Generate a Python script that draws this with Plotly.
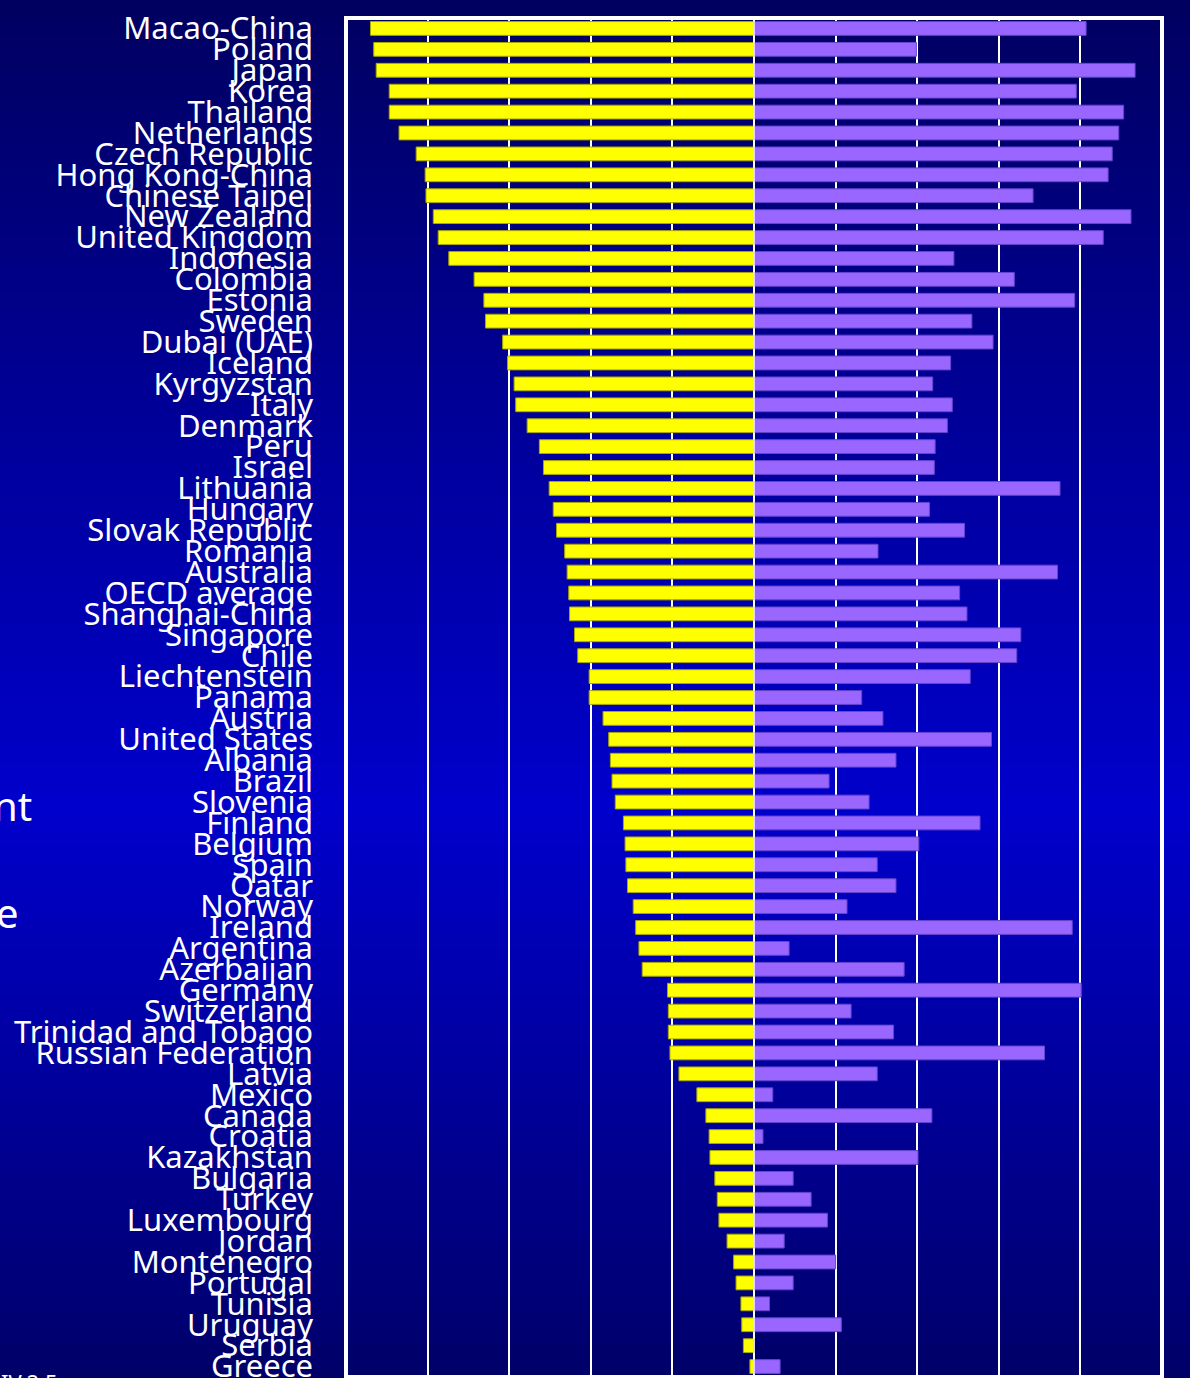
import plotly.graph_objects as go

# Countries, top to bottom
countries = [
    "Macao-China", "Poland", "Japan", "Korea", "Thailand", "Netherlands",
    "Czech Republic", "Hong Kong-China", "Chinese Taipei", "New Zealand",
    "United Kingdom", "Indonesia", "Colombia", "Estonia", "Sweden",
    "Dubai (UAE)", "Iceland", "Kyrgyzstan", "Italy", "Denmark", "Peru",
    "Israel", "Lithuania", "Hungary", "Slovak Republic", "Romania",
    "Australia", "OECD average", "Shanghai-China", "Singapore", "Chile",
    "Liechtenstein", "Panama", "Austria", "United States", "Albania",
    "Brazil", "Slovenia", "Finland", "Belgium", "Spain", "Qatar", "Norway",
    "Ireland", "Argentina", "Azerbaijan", "Germany", "Switzerland",
    "Trinidad and Tobago", "Russian Federation", "Latvia", "Mexico",
    "Canada", "Croatia", "Kazakhstan", "Bulgaria", "Turkey", "Luxembourg",
    "Jordan", "Montenegro", "Portugal", "Tunisia", "Uruguay", "Serbia",
    "Greece",
]

# Left-hand (yellow) series, drawn to the left of zero
yellow_values = [
    47.0, 46.6, 46.3, 44.7, 44.7, 43.5, 41.4, 40.3, 40.2, 39.3,
    38.7, 37.4, 34.3, 33.1, 32.9, 30.8, 30.2, 29.4, 29.2, 27.8,
    26.3, 25.8, 25.1, 24.6, 24.2, 23.2, 22.9, 22.7, 22.6, 22.0,
    21.6, 20.2, 20.2, 18.5, 17.8, 17.6, 17.4, 17.0, 16.0, 15.8,
    15.7, 15.5, 14.8, 14.5, 14.1, 13.7, 10.6, 10.5, 10.5, 10.3,
    9.2, 7.0, 5.9, 5.5, 5.4, 4.8, 4.5, 4.3, 3.3, 2.5,
    2.2, 1.6, 1.5, 1.3, 0.5,
]

# Right-hand (purple) series
purple_values = [
    40.7, 19.9, 46.7, 39.5, 45.3, 44.7, 43.9, 43.4, 34.2, 46.2,
    42.8, 24.5, 31.9, 39.3, 26.7, 29.3, 24.1, 21.9, 24.3, 23.7,
    22.2, 22.1, 37.5, 21.5, 25.8, 15.2, 37.2, 25.2, 26.1, 32.7,
    32.2, 26.5, 13.2, 15.8, 29.1, 17.4, 9.2, 14.1, 27.7, 20.2,
    15.1, 17.4, 11.4, 39.0, 4.3, 18.4, 40.1, 11.9, 17.1, 35.6,
    15.1, 2.3, 21.8, 1.1, 20.1, 4.8, 7.0, 9.0, 3.7, 10.0,
    4.8, 1.9, 10.7, 0.0, 3.2,
]

W, H = 1190, 1378
ML, MR, MT, MB = 346, 28, 18, 1
PLOT_W = W - ML - MR
PLOT_H = H - MT - MB
LABEL_FONT = "Comic Sans MS, Noto Sans, sans-serif"


def paper_x(px):
    return (px - ML) / PLOT_W


def paper_y(py):
    return (H - MB - py) / PLOT_H


def bg_blue(py):
    # vertical gradient: navy at top and bottom, bright blue around the middle
    top, peak, bottom = 96, 204, 104
    peak_y = 810
    if py <= peak_y:
        b = top + (peak - top) * py / peak_y
    else:
        b = peak + (bottom - peak) * (py - peak_y) / (H - peak_y)
    return f"rgb(0,0,{int(round(b))})"


fig = go.Figure()

fig.add_trace(go.Bar(
    y=countries,
    x=[-v for v in yellow_values],
    orientation="h",
    width=0.66,
    marker=dict(color="#FFFF00", line=dict(color="#A8A800", width=1)),
    hoverinfo="skip",
))
fig.add_trace(go.Bar(
    y=countries,
    x=purple_values,
    orientation="h",
    width=0.66,
    marker=dict(color="#9966FF", line=dict(color="#6644CC", width=1)),
    hoverinfo="skip",
))

shapes = []
# background gradient stripes across the whole page
step = 6
for y0 in range(0, H, step):
    y1 = min(H, y0 + step)
    shapes.append(dict(
        type="rect", xref="paper", yref="paper", layer="below",
        x0=paper_x(-10), x1=paper_x(W + 10),
        y0=paper_y(y1 + 0.5), y1=paper_y(y0 - 0.5),
        fillcolor=bg_blue((y0 + y1) / 2), line=dict(width=0),
    ))
# centre line on top of the bars
shapes.append(dict(
    type="line", xref="x", yref="paper", layer="above",
    x0=0, x1=0, y0=0, y1=1,
    line=dict(color="white", width=1.5),
))
# white frame round the plot area
shapes.append(dict(
    type="rect", xref="paper", yref="paper", layer="above",
    x0=0, x1=1, y0=0, y1=1,
    line=dict(color="white", width=4),
))

annotations = [
    dict(text="nt", xref="paper", yref="paper", x=paper_x(34), y=paper_y(806),
         xanchor="right", yanchor="middle", showarrow=False,
         font=dict(family=LABEL_FONT, size=40, color="white")),
    dict(text="e", xref="paper", yref="paper", x=paper_x(21), y=paper_y(912),
         xanchor="right", yanchor="middle", showarrow=False,
         font=dict(family=LABEL_FONT, size=40, color="white")),
    dict(text="IV.2.5", xref="paper", yref="paper", x=paper_x(-1), y=paper_y(1365),
         xanchor="left", yanchor="top", showarrow=False,
         font=dict(family=LABEL_FONT, size=22, color="white")),
]

fig.update_layout(
    width=W, height=H,
    margin=dict(l=ML, r=MR, t=MT, b=MB, pad=0),
    paper_bgcolor="#000070",
    plot_bgcolor="rgba(0,0,0,0)",
    barmode="relative",
    showlegend=False,
    shapes=shapes,
    annotations=annotations,
    xaxis=dict(
        range=[-50, 50], tick0=0, dtick=10,
        showticklabels=False, ticks="",
        showgrid=True, gridcolor="white", gridwidth=2,
        zeroline=False, showline=False, fixedrange=True,
        automargin=False,
    ),
    yaxis=dict(
        type="category",
        categoryorder="array", categoryarray=countries,
        range=[len(countries) - 0.5, -0.5],
        tickmode="array", tickvals=countries, ticktext=countries,
        ticks="", ticklabelstandoff=32,
        tickfont=dict(family=LABEL_FONT, size=31, color="white"),
        showgrid=False, zeroline=False, showline=False, fixedrange=True,
        automargin=False,
    ),
)

fig.write_html("out.html")
